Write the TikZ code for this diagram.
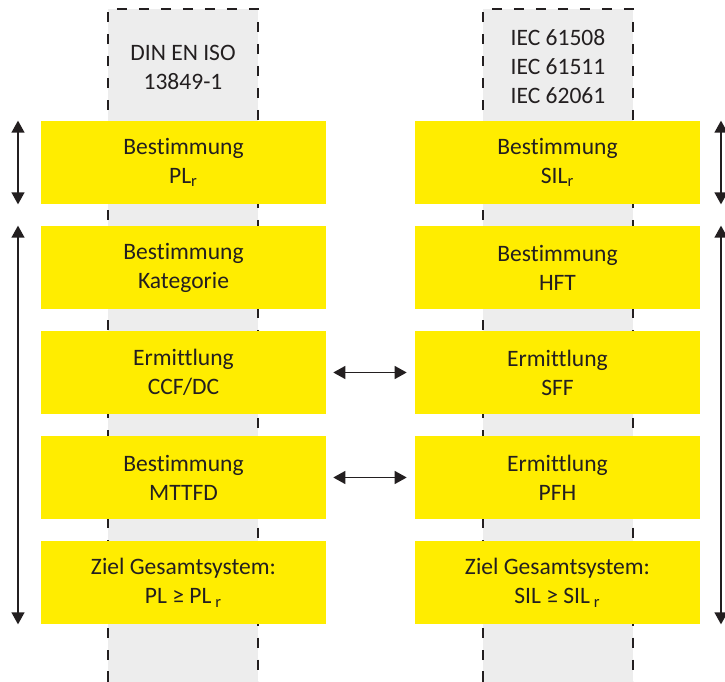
\documentclass[tikz,border=0pt]{standalone}
\usepackage{fontspec}
\setmainfont{Carlito}[Ligatures=NoCommon]
\usetikzlibrary{arrows.meta}
\definecolor{boxyellow}{HTML}{FFED00}
\definecolor{colgray}{HTML}{EDEDED}
\definecolor{inkgray}{HTML}{231F20}
\begin{document}
\begin{tikzpicture}[x=0.02cm,y=-0.02cm,
   font=\fontsize{13.4}{16.5}\selectfont,
   stepbox/.style={fill=boxyellow, minimum width=5.7cm, minimum height=1.66cm,
      inner sep=0pt, align=center, text=inkgray},
   normtext/.style={align=center, text=inkgray},
   colborder/.style={draw=inkgray, line width=0.8pt, dash pattern=on 0.21cm off 0.23cm},
   dblarrow/.style={{Triangle[length=0.24cm,width=0.26cm]}-{Triangle[length=0.24cm,width=0.26cm]},
      draw=inkgray, line width=0.75pt}]
   \useasboundingbox (0,0) rectangle (725,682);

   % standard columns
   \fill[colgray] (108,9) rectangle (258,682);
   \draw[colborder] (108,682) -- (108,9) -- (258,9) -- (258,682);
   \fill[colgray] (483,9) rectangle (633,682);
   \draw[colborder] (483,682) -- (483,9) -- (633,9) -- (633,682);

   \node[normtext] (din) at (183,67) {DIN EN ISO\\13849-1};
   \node[normtext] (iec) at (558,66.5) {IEC 61508\\IEC 61511\\IEC 62061};

   % left column: ISO 13849
   \node[stepbox] (plr) at (183.5,162.5) {Bestimmung\\PL\textsubscript{r}};
   \node[stepbox] (kat) at (183.5,267.5) {Bestimmung\\Kategorie};
   \node[stepbox] (ccf) at (183.5,372.5) {Ermittlung\\CCF/DC};
   \node[stepbox] (mttfd) at (183.5,477.5) {Bestimmung\\MTTFD};
   \node[stepbox] (plziel) at (183.5,582.5) {Ziel Gesamtsystem:\\PL ≥ PL\,\textsubscript{r}};

   % right column: IEC
   \node[stepbox] (silr) at (557.5,162.5) {Bestimmung\\SIL\textsubscript{r}};
   \node[stepbox] (hft) at (557.5,267.5) {Bestimmung\\HFT};
   \node[stepbox] (sff) at (557.5,372.5) {Ermittlung\\SFF};
   \node[stepbox] (pfh) at (557.5,477.5) {Ermittlung\\PFH};
   \node[stepbox] (silziel) at (557.5,582.5) {Ziel Gesamtsystem:\\SIL ≥ SIL\,\textsubscript{r}};

   % side arrows
   \coordinate (lx) at (18,0);
   \coordinate (rx) at (721,0);
   \draw[dblarrow] (plr.north -| lx) -- (plr.south -| lx);
   \draw[dblarrow] (kat.north -| lx) -- (plziel.south -| lx);
   \draw[dblarrow] (silr.north -| rx) -- (silr.south -| rx);
   \draw[dblarrow] (hft.north -| rx) -- (silziel.south -| rx);

   % correspondences
   \draw[dblarrow, shorten <=0.14cm, shorten >=0.16cm] (ccf.east) -- (sff.west);
   \draw[dblarrow, shorten <=0.14cm, shorten >=0.16cm] (mttfd.east) -- (pfh.west);
\end{tikzpicture}
\end{document}
